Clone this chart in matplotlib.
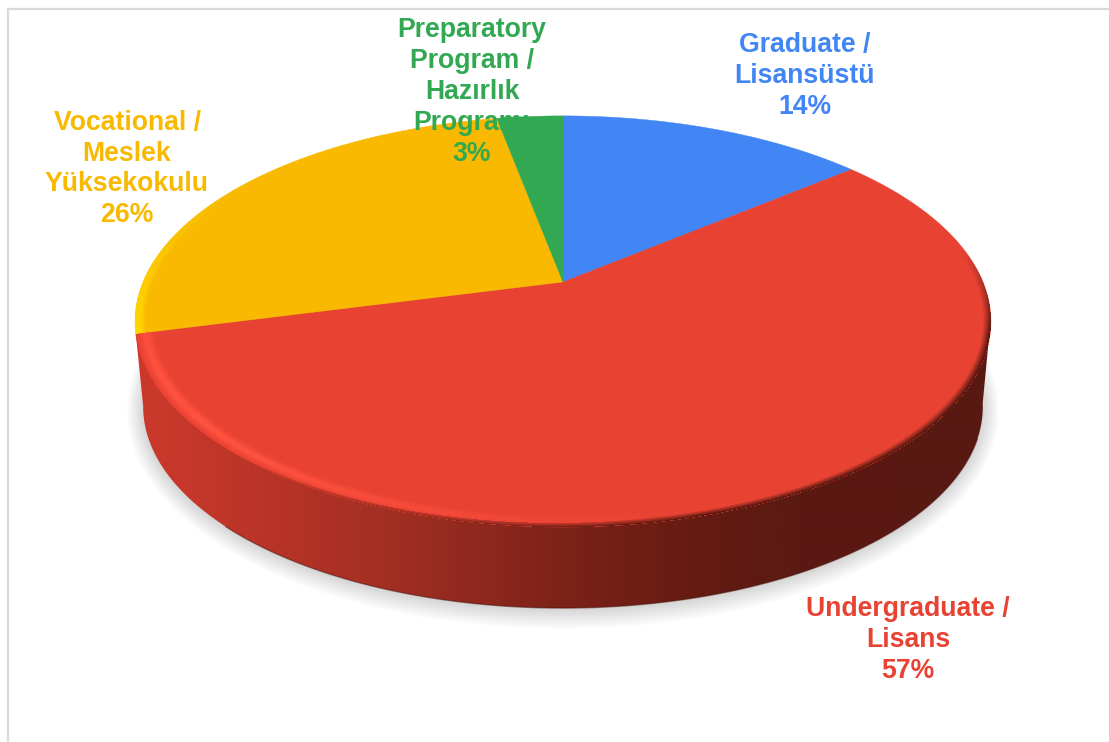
import numpy as np
import matplotlib
matplotlib.use("Agg")
import matplotlib.pyplot as plt
from matplotlib.patches import Polygon

plt.rcParams['font.family'] = ['Liberation Sans', 'DejaVu Sans']

# data, clockwise from 12 o'clock
labels = ['Graduate /\nLisansüstü', 'Undergraduate /\nLisans', 'Vocational /\nMeslek\nYüksekokulu',
          'Preparatory\nProgram /\nHazırlık\nProgramı']
values = [14, 57, 26, 3]
colors = ['#4285F4', '#E84233', '#F8B900', '#32A852']
label_pos = [(805, 76), (908, 640), (127, 169), (472, 92)]

W, H = 1109, 742
cx, cy = 563, 282      # apex of the pie on screen
bx, ay, k = 420, 198, 0.192   # perspective of the top disc
base_cy = 368
base_bx, base_ay = 412, 194


def project(theta, r=1.0, x0=cx, y0=cy, b=bx, a=ay):
    # theta in radians clockwise from the top
    u = r * np.sin(theta)
    v = r * np.cos(theta)
    d = 1 + k * v
    return x0 + b * u / d, y0 - a * v / d


fig = plt.figure(figsize=(W / 100, H / 100), dpi=100)
ax = fig.add_axes([0, 0, 1, 1])
ax.set_xlim(0, W)
ax.set_ylim(H, 0)
ax.axis('off')

# chart frame
ax.plot([7.5, 7.5, W], [H, 8.5, 8.5], color='#D9D9D9', lw=1.6, zorder=1)

# soft shadow under the pie
th = np.linspace(0, 2 * np.pi, 721)
for grow in np.arange(20, 0, -1.5):
    sx, sy = project(th, 1.0, cx, base_cy + 1, base_bx + grow * 0.8, base_ay + grow * 0.8)
    ax.fill(sx, sy, color='black', alpha=0.012, lw=0, zorder=2)

# side wall, only the big front slice shows one
start = np.cumsum([0] + values) / sum(values) * 2 * np.pi
wall_x, wall_y = project(np.radians(np.linspace(100, 259, 300)), 1.0, cx, base_cy, base_bx, base_ay)
top_l = project(start[2])
top_r = project(np.radians(100))
wall_pts = np.vstack([top_r, np.column_stack([wall_x, wall_y]), top_l, [cx, cy]])
wall = Polygon(wall_pts, closed=True, transform=ax.transData, fc='none', ec='none')
ax.add_patch(wall)
stop_x = [135, 250, 400, 560, 700, 800, 1000]
stop_c = np.array([[204, 57, 44], [188, 53, 40], [160, 46, 34], [125, 34, 25],
                   [100, 27, 18], [90, 26, 18], [88, 25, 18]]) / 255
xs = np.arange(W)
grad = np.stack([np.interp(xs, stop_x, stop_c[:, i]) for i in range(3)], axis=1)[None, :, :]
img = ax.imshow(grad, extent=[0, W, H, 0], aspect='auto', zorder=3, interpolation='bilinear')
img.set_clip_path(wall)
ax.set_xlim(0, W)
ax.set_ylim(H, 0)
edge_x, edge_y = project(np.radians(np.linspace(110, 225, 200)), 1.0, cx, base_cy, base_bx, base_ay)
ax.plot(edge_x, edge_y, color='#4A120C', lw=1.0, alpha=0.5, zorder=3.5)

# top face slices
for i, c in enumerate(colors):
    t = np.linspace(start[i], start[i + 1], 300)
    px, py = project(t)
    ax.fill(np.r_[cx, px], np.r_[cy, py], color=c, lw=0.3, zorder=4)

# bevel on the rim, painted as an overlay in disc coordinates
gx, gy = np.meshgrid(np.arange(W) + 0.5, np.arange(H) + 0.5)
X = (gx - cx) / bx
Y = (cy - gy) / ay
v = Y / (1 - k * Y)
u = X * (1 + k * v)
r = np.hypot(u, v)
ang = np.degrees(np.arctan2(u, v)) % 360

over = np.zeros((H, W, 4))
# bright stripe, lower left of the red slice
light = np.clip(np.cos(np.radians(ang - 232)), 0, 1) ** 3 * np.exp(-((r - 0.978) / 0.013) ** 2)
red_part = (ang > 100) & (ang < 255.6)
over[red_part, 0] = 1.0
over[red_part, 1] = 0.32
over[red_part, 2] = 0.25
over[..., 3] = np.where(red_part, np.clip(light * 1.1, 0, 1), 0)
# golden rim on the yellow slice
gold = (ang >= 255.6) & (ang < 300)
rim = np.clip((r - 0.975) / 0.012, 0, 1) * np.clip((300 - ang) / 45, 0, 1)
over[gold, 0] = 1.0
over[gold, 1] = 0.84
over[gold, 2] = 0.0
over[..., 3] = np.where(gold, rim, over[..., 3])
# dark fall off toward the wall on the right and the front
dark = np.clip((r - 0.982) / 0.018, 0, 1) * np.clip((ang - 80) / 25, 0, 1) * np.clip((225 - ang) / 60, 0, 1)
dark_part = (ang > 80) & (ang < 225) & (dark > over[..., 3])
over[dark_part, 0] = 0.30
over[dark_part, 1] = 0.08
over[dark_part, 2] = 0.05
over[..., 3] = np.where(dark_part, dark, over[..., 3])
over[r > 1.0, 3] = 0
ax.imshow(over, extent=[0, W, H, 0], aspect='auto', zorder=5, interpolation='bilinear')
ax.set_xlim(0, W)
ax.set_ylim(H, 0)

# labels
for lab, val, c, (lx, ly) in zip(labels, values, colors, label_pos):
    ax.text(lx, ly, f'{lab}\n{val}%', color=c, ha='center', va='center', fontsize=19.2,
            fontweight='bold', linespacing=1.24, zorder=6)

fig.savefig('out.png', dpi=100)
